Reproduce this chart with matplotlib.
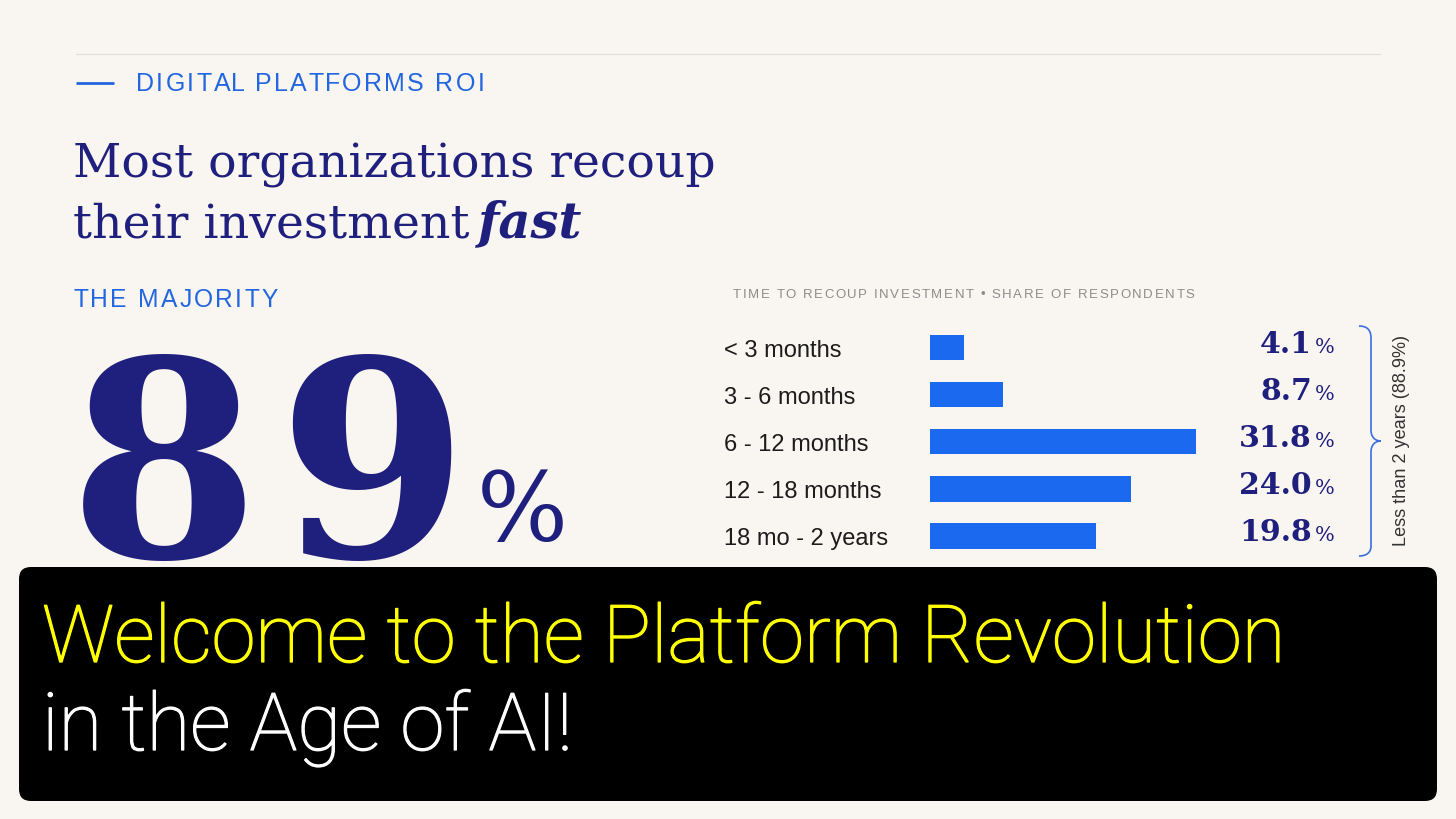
import matplotlib
matplotlib.use('Agg')
import matplotlib.pyplot as plt
from matplotlib import transforms, font_manager
from matplotlib import patheffects as pe
from matplotlib.patches import FancyBboxPatch, PathPatch
from matplotlib.path import Path

# ---------------- data ----------------
categories = ['< 3 months', '3 - 6 months', '6 - 12 months', '12 - 18 months', '18 mo - 2 years']
values = [4.1, 8.7, 31.8, 24.0, 19.8]
headline_value = 89
bracket_total = 88.9

eyebrow = 'DIGITAL PLATFORMS ROI'
title_line1 = 'Most organizations recoup'
title_line2 = 'their investment'
title_emph = 'fast'
kicker = 'THE MAJORITY'
chart_title = 'TIME TO RECOUP INVESTMENT \u2022 SHARE OF RESPONDENTS'
caption1 = 'Welcome to the Platform Revolution'
caption2 = 'in the Age of AI!'

# ---------------- style ----------------
W, H = 1456, 819
BG = '#f9f5f1'
NAVY = '#1f1f7d'
BLUE = '#1a69ef'
BLUE_TXT = '#2266e0'
SANS = 'Liberation Sans'
SERIF = 'DejaVu Serif'


def pick_font(cands):
    for c in cands:
        try:
            font_manager.findfont(font_manager.FontProperties(family=c), fallback_to_default=False)
            return c
        except Exception:
            continue
    return 'DejaVu Sans'


fig = plt.figure(figsize=(W / 100, H / 100), dpi=100, facecolor=BG)
ax0 = fig.add_axes([0, 0, 1, 1])
ax0.set_xlim(0, W)
ax0.set_ylim(H, 0)
ax0.axis('off')
renderer = fig.canvas.get_renderer()
PX = 100 / 72.0  # pixels per point


def text_width(s, ax=ax0, **kw):
    t = ax.text(0, 0, s, **kw)
    w = t.get_window_extent(renderer).width
    t.remove()
    return w


def fit_size(s, target, **kw):
    w = text_width(s, fontsize=20, **kw)
    return 20 * target / w


def spaced(x, y, s, target, track, color, family=SANS, weight='normal'):
    kw = dict(family=family, fontweight=weight)
    base = 20
    ref = text_width('||', fontsize=base, **kw)
    full = text_width('|' + s + '|', fontsize=base, **kw) - ref
    n = len(s)
    per_size = (full + track * base * PX * (n - 1)) / base
    size = target / per_size
    ref = text_width('||', fontsize=size, **kw)
    for i, ch in enumerate(s):
        if ch == ' ':
            continue
        pos = text_width('|' + s[:i] + '|', fontsize=size, **kw) - ref
        ax0.text(x + pos + i * track * size * PX, y, ch, fontsize=size, color=color,
                 ha='left', va='baseline', **kw)
    return size


# top rule
ax0.plot([76, 1380], [54, 54], color='#e3ded9', lw=0.9)
# eyebrow
ax0.plot([76, 114], [83, 83], color=BLUE_TXT, lw=2.0, solid_capstyle='butt')
spaced(136, 91, eyebrow, 348, 0.09, BLUE_TXT)

# title
s1 = fit_size(title_line1, 640, family=SERIF)
ax0.text(73, 177, title_line1, fontsize=s1, family=SERIF, color=NAVY, ha='left', va='baseline')
ax0.text(73, 237, title_line2, fontsize=s1, family=SERIF, color=NAVY, ha='left', va='baseline')
w2 = text_width(title_line2, fontsize=s1, family=SERIF)
ax0.text(73 + w2 + 8, 237, title_emph, fontsize=s1 * 1.05, family=SERIF, fontweight='bold',
         fontstyle='italic', color=NAVY, ha='left', va='baseline')

# kicker
spaced(73, 307, kicker, 205, 0.09, BLUE_TXT)

# big number (digits set with generous tracking)
digit_pitch = 208
for k, ch in enumerate(str(headline_value)):
    ax0.text(69 + k * digit_pitch, 557, ch, fontsize=197, family=SERIF, fontweight='bold',
             color=NAVY, ha='left', va='baseline')
ax0.text(477, 541, '%', fontsize=69, family=SERIF, color=NAVY, ha='left', va='baseline')

# chart subtitle
spaced(733, 298, chart_title, 463, 0.12, '#8c8c8c')

# ---------------- bar chart ----------------
px_per_unit = 8.36
xmax = 40
top_px, row_px = 324, 47.1
n = len(categories)
axb = fig.add_axes([930 / W, 1 - (top_px + n * row_px) / H, xmax * px_per_unit / W, n * row_px / H])
axb.set_xlim(0, xmax)
axb.set_ylim(n - 0.5, -0.5)
axb.axis('off')
axb.patch.set_alpha(0)
axb.barh(range(n), values, height=0.54, color=BLUE, left=0)

blend = transforms.blended_transform_factory(ax0.transData, axb.transData)
lab_tr = transforms.offset_copy(blend, fig=fig, y=-9.0 / PX, units='points')
val_tr = transforms.offset_copy(blend, fig=fig, y=-5.5 / PX, units='points')
for i, (c, v) in enumerate(zip(categories, values)):
    axb.text(724, i, c, transform=lab_tr, fontsize=17, family=SANS, color='#1c1c1c',
             ha='left', va='baseline')
    axb.text(1312, i, f'{v:.1f}', transform=val_tr, fontsize=21.5, family=SERIF,
             fontweight='bold', color=NAVY, ha='right', va='baseline')
    axb.text(1315, i, '%', transform=val_tr, fontsize=15, family=SERIF,
             color=NAVY, ha='left', va='baseline')

# brace
verts = [(1359, 326), (1366, 326), (1371, 329), (1371, 338),
         (1371, 430),
         (1371, 437), (1375, 441), (1381, 441),
         (1375, 441), (1371, 445), (1371, 452),
         (1371, 546),
         (1371, 553), (1366, 556), (1359, 556)]
codes = [Path.MOVETO, Path.CURVE4, Path.CURVE4, Path.CURVE4,
         Path.LINETO,
         Path.CURVE4, Path.CURVE4, Path.CURVE4,
         Path.CURVE4, Path.CURVE4, Path.CURVE4,
         Path.LINETO,
         Path.CURVE4, Path.CURVE4, Path.CURVE4]
ax0.add_patch(PathPatch(Path(verts, codes), facecolor='none', edgecolor='#3a6fe0', lw=1.2))
brace_label = f'Less than 2 years ({bracket_total}%)'
bs = fit_size(brace_label, 212, family=SANS)
ax0.text(1402, 441, brace_label, rotation=90, fontsize=bs, family=SANS, color='#333333',
         ha='center', va='center')

# ---------------- caption overlay ----------------
axt = fig.add_axes([0, 0, 1, 1])
axt.set_xlim(0, W)
axt.set_ylim(H, 0)
axt.axis('off')
axt.patch.set_alpha(0)
axt.add_patch(FancyBboxPatch((19, 567), 1418, 234, boxstyle='round,pad=0,rounding_size=12',
                             facecolor='black', edgecolor='none'))
CAP = pick_font(['Roboto', 'Noto Sans'])
cs = fit_size(caption1, 1244, family=CAP, fontweight='light')
for txt, yb, col in [(caption1, 662, '#ffff00'), (caption2, 750, 'white')]:
    axt.text(42, yb, txt, fontsize=cs, family=CAP, fontweight='light', color=col,
             ha='left', va='baseline',
             path_effects=[pe.withStroke(linewidth=0.9, foreground=col)])

fig.savefig('out.png', dpi=100, facecolor=BG)
